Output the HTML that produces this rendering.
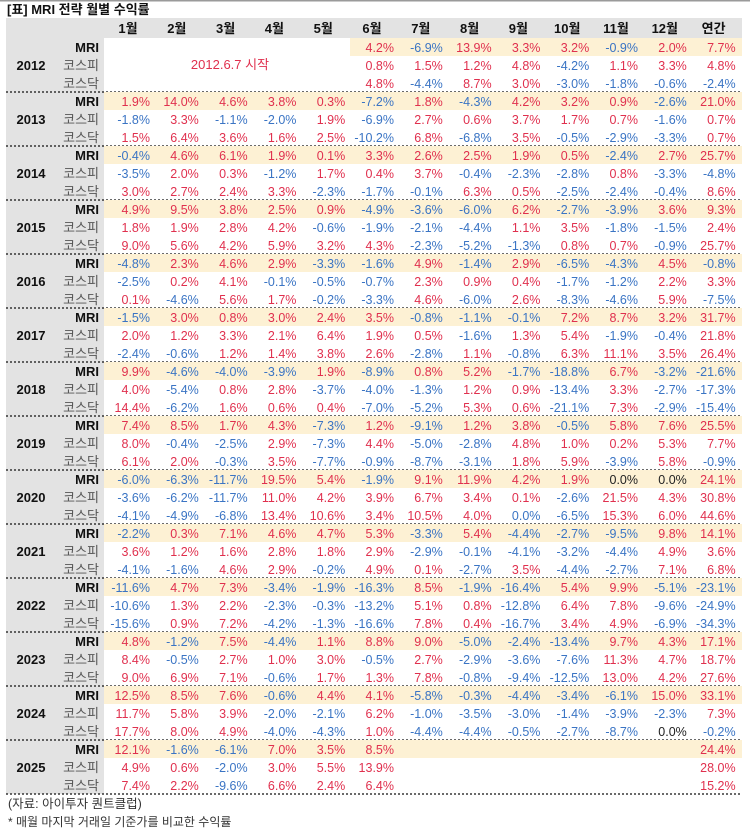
<!DOCTYPE html>
<html><head><meta charset="utf-8">
<style>
html,body{margin:0;padding:0;background:#fff;}
svg{display:block;font-family:"Liberation Sans","Noto Sans CJK KR",sans-serif;}
</style></head>
<body>
<svg id="tbl" width="750" height="833" viewBox="0 0 750 833" xmlns="http://www.w3.org/2000/svg">
<rect x="0" y="0" width="750" height="1.5" fill="#9a9a9a"/>
<text x="7" y="14" font-size="13" font-weight="bold" fill="#111">[표] MRI 전략 월별 수익률</text>
</svg>
<script>
const years=[2012,2013,2014,2015,2016,2017,2018,2019,2020,2021,2022,2023,2024,2025];
const headers=["1월","2월","3월","4월","5월","6월","7월","8월","9월","10월","11월","12월","연간"];
const rowLabels=["MRI","코스피","코스닥"];
const N=null;
const mri=[
[N,N,N,N,N,4.2,-6.9,13.9,3.3,3.2,-0.9,2.0,7.7],
[1.9,14.0,4.6,3.8,0.3,-7.2,1.8,-4.3,4.2,3.2,0.9,-2.6,21.0],
[-0.4,4.6,6.1,1.9,0.1,3.3,2.6,2.5,1.9,0.5,-2.4,2.7,25.7],
[4.9,9.5,3.8,2.5,0.9,-4.9,-3.6,-6.0,6.2,-2.7,-3.9,3.6,9.3],
[-4.8,2.3,4.6,2.9,-3.3,-1.6,4.9,-1.4,2.9,-6.5,-4.3,4.5,-0.8],
[-1.5,3.0,0.8,3.0,2.4,3.5,-0.8,-1.1,-0.1,7.2,8.7,3.2,31.7],
[9.9,-4.6,-4.0,-3.9,1.9,-8.9,0.8,5.2,-1.7,-18.8,6.7,-3.2,-21.6],
[7.4,8.5,1.7,4.3,-7.3,1.2,-9.1,1.2,3.8,-0.5,5.8,7.6,25.5],
[-6.0,-6.3,-11.7,19.5,5.4,-1.9,9.1,11.9,4.2,1.9,0.0,0.0,24.1],
[-2.2,0.3,7.1,4.6,4.7,5.3,-3.3,5.4,-4.4,-2.7,-9.5,9.8,14.1],
[-11.6,4.7,7.3,-3.4,-1.9,-16.3,8.5,-1.9,-16.4,5.4,9.9,-5.1,-23.1],
[4.8,-1.2,7.5,-4.4,1.1,8.8,9.0,-5.0,-2.4,-13.4,9.7,4.3,17.1],
[12.5,8.5,7.6,-0.6,4.4,4.1,-5.8,-0.3,-4.4,-3.4,-6.1,15.0,33.1],
[12.1,-1.6,-6.1,7.0,3.5,8.5,N,N,N,N,N,N,24.4]];
const kospi=[
[N,N,N,N,N,0.8,1.5,1.2,4.8,-4.2,1.1,3.3,4.8],
[-1.8,3.3,-1.1,-2.0,1.9,-6.9,2.7,0.6,3.7,1.7,0.7,-1.6,0.7],
[-3.5,2.0,0.3,-1.2,1.7,0.4,3.7,-0.4,-2.3,-2.8,0.8,-3.3,-4.8],
[1.8,1.9,2.8,4.2,-0.6,-1.9,-2.1,-4.4,1.1,3.5,-1.8,-1.5,2.4],
[-2.5,0.2,4.1,-0.1,-0.5,-0.7,2.3,0.9,0.4,-1.7,-1.2,2.2,3.3],
[2.0,1.2,3.3,2.1,6.4,1.9,0.5,-1.6,1.3,5.4,-1.9,-0.4,21.8],
[4.0,-5.4,0.8,2.8,-3.7,-4.0,-1.3,1.2,0.9,-13.4,3.3,-2.7,-17.3],
[8.0,-0.4,-2.5,2.9,-7.3,4.4,-5.0,-2.8,4.8,1.0,0.2,5.3,7.7],
[-3.6,-6.2,-11.7,11.0,4.2,3.9,6.7,3.4,0.1,-2.6,21.5,4.3,30.8],
[3.6,1.2,1.6,2.8,1.8,2.9,-2.9,-0.1,-4.1,-3.2,-4.4,4.9,3.6],
[-10.6,1.3,2.2,-2.3,-0.3,-13.2,5.1,0.8,-12.8,6.4,7.8,-9.6,-24.9],
[8.4,-0.5,2.7,1.0,3.0,-0.5,2.7,-2.9,-3.6,-7.6,11.3,4.7,18.7],
[11.7,5.8,3.9,-2.0,-2.1,6.2,-1.0,-3.5,-3.0,-1.4,-3.9,-2.3,7.3],
[4.9,0.6,-2.0,3.0,5.5,13.9,N,N,N,N,N,N,28.0]];
const kosdaq=[
[N,N,N,N,N,4.8,-4.4,8.7,3.0,-3.0,-1.8,-0.6,-2.4],
[1.5,6.4,3.6,1.6,2.5,-10.2,6.8,-6.8,3.5,-0.5,-2.9,-3.3,0.7],
[3.0,2.7,2.4,3.3,-2.3,-1.7,-0.1,6.3,0.5,-2.5,-2.4,-0.4,8.6],
[9.0,5.6,4.2,5.9,3.2,4.3,-2.3,-5.2,-1.3,0.8,0.7,-0.9,25.7],
[0.1,-4.6,5.6,1.7,-0.2,-3.3,4.6,-6.0,2.6,-8.3,-4.6,5.9,-7.5],
[-2.4,-0.6,1.2,1.4,3.8,2.6,-2.8,1.1,-0.8,6.3,11.1,3.5,26.4],
[14.4,-6.2,1.6,0.6,0.4,-7.0,-5.2,5.3,0.6,-21.1,7.3,-2.9,-15.4],
[6.1,2.0,-0.3,3.5,-7.7,-0.9,-8.7,-3.1,1.8,5.9,-3.9,5.8,-0.9],
[-4.1,-4.9,-6.8,13.4,10.6,3.4,10.5,4.0,0.0,-6.5,15.3,6.0,44.6],
[-4.1,-1.6,4.6,2.9,-0.2,4.9,0.1,-2.7,3.5,-4.4,-2.7,7.1,6.8],
[-15.6,0.9,7.2,-4.2,-1.3,-16.6,7.8,0.4,-16.7,3.4,4.9,-6.9,-34.3],
[9.0,6.9,7.1,-0.6,1.7,1.3,7.8,-0.8,-9.4,-12.5,13.0,4.2,27.6],
[17.7,8.0,4.9,-4.0,-4.3,1.0,-4.4,-4.4,-0.5,-2.7,-8.7,0.0,-0.2],
[7.4,2.2,-9.6,6.6,2.4,6.4,N,N,N,N,N,N,15.2]];

const svg=document.getElementById('tbl');
const NS="http://www.w3.org/2000/svg";
const X0=6, XL=104, XR=742, TOP=38, RH=18, BH=54;
function colRight(i){return 150+48.8*i;}
function rowTop(b,r){return TOP+BH*b+RH*r;}
function mk(tag,attrs,txt){const e=document.createElementNS(NS,tag);for(const k in attrs)e.setAttribute(k,attrs[k]);if(txt!=null)e.textContent=txt;svg.appendChild(e);return e;}
function valColor(v,b,r,c){
  if(v===0){ if(b===8&&r===2&&c===8) return "#3a74c4"; return "#222";}
  return v>0?"#e0304e":"#3a74c4";
}
// header band
let e;
e=mk('rect',{x:X0,y:18,width:XR-X0,height:20,fill:"#e3e3e3"});


// left label column
e=mk('rect',{x:X0,y:38,width:XL-X0,height:BH*years.length,fill:"#e3e3e3"});


headers.forEach((h,i)=>{
  const t=mk('text',{x:colRight(i)-22,y:33,"font-size":13,"font-weight":"bold","text-anchor":"middle",fill:"#111"},h);
  
  
});
const series=[mri,kospi,kosdaq];
years.forEach((yr,b)=>{
  // MRI yellow band
  const yx=(b===0)?350:XL;
  const band=mk('rect',{x:yx,y:rowTop(b,0),width:XR-yx,height:RH,fill:"#fdf1d4"});
  
  
  const yt=mk('text',{x:31,y:rowTop(b,1)+14,"font-size":13,"font-weight":"bold","text-anchor":"middle",fill:"#111"},String(yr));
  
  
  rowLabels.forEach((lab,r)=>{
    const lt=mk('text',{x:99,y:rowTop(b,r)+14,"font-size":13,"font-weight":r===0?"bold":"normal","text-anchor":"end",fill:r===0?"#111":"#555"},lab);
    
    
    series[r][b].forEach((v,c)=>{
      if(v===null) return;
      const vt=mk('text',{x:colRight(c),y:rowTop(b,r)+14,"font-size":12.5,"text-anchor":"end",fill:valColor(v,b,r,c)},v.toFixed(1)+"%");
      
      
    });
  });
  const sep=mk('line',{x1:X0,x2:XR,y1:rowTop(b,3),y2:rowTop(b,3),stroke:"#111","stroke-width":1.3,"stroke-dasharray":"2,2"});
  
  
});
e=mk('text',{x:230,y:69,"font-size":13,"text-anchor":"middle",fill:"#e0304e"},"2012.6.7 시작");


e=mk('text',{x:8,y:808,"font-size":12.5,fill:"#333"},"(자료: 아이투자 퀀트클럽)");


e=mk('text',{x:8,y:826,"font-size":12,fill:"#333"},"* 매월 마지막 거래일 기준가를 비교한 수익률");


</script>
</body></html>
